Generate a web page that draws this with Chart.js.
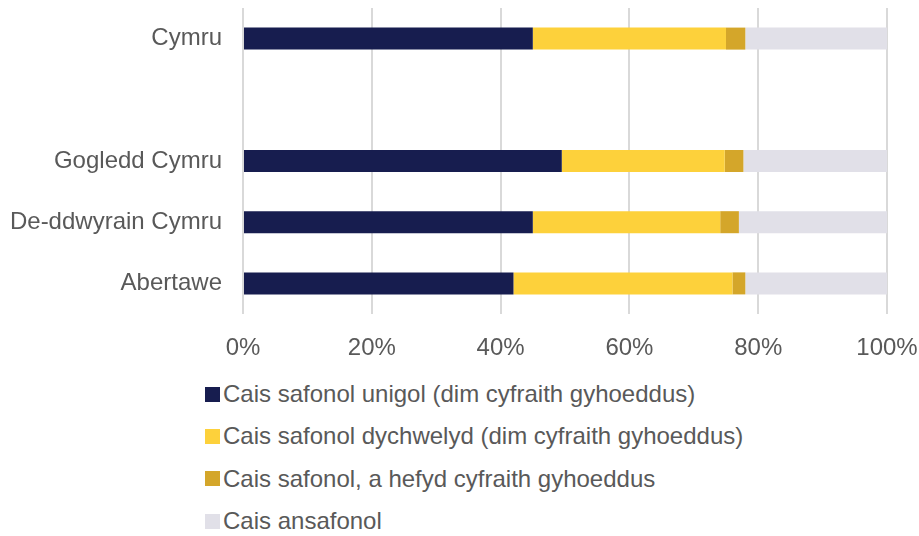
<!DOCTYPE html>
<html>
<head>
<meta charset="utf-8">
<script src="https://cdn.jsdelivr.net/npm/chart.js@4"></script>
<style>
  html, body { margin: 0; padding: 0; background: #fff; }
  body { width: 919px; height: 536px; position: relative; overflow: hidden; font-family: "Liberation Sans", Arial, sans-serif; }
  #wrap { position: absolute; left: 0; top: 0; width: 919px; height: 370px; }
  #legend { position: absolute; left: 205px; top: 373px; }
  .item { display: flex; align-items: center; height: 42.3px; font-size: 24px; color: #595959; white-space: nowrap; }
  .box { width: 15px; height: 15px; margin-right: 3px; flex: none; }
</style>
</head>
<body>
<div id="wrap"><canvas id="chart"></canvas></div>
<div id="legend"></div>
<script>
// categories (blank row between Cymru and the regions)
const categories = ['Cymru', '', 'Gogledd Cymru', 'De-ddwyrain Cymru', 'Abertawe'];
const seriesNames = [
    'Cais safonol unigol (dim cyfraith gyhoeddus)',
    'Cais safonol dychwelyd (dim cyfraith gyhoeddus)',
    'Cais safonol, a hefyd cyfraith gyhoeddus',
    'Cais ansafonol'
];
const unigol = [45, null, 49.5, 45, 42];
const dychwelyd = [30, null, 25.3, 29.1, 34];
const cyfraith = [3, null, 2.9, 2.9, 2];
const ansafonol = [22, null, 22.3, 23, 22];
const tickLabels = ['0%', '20%', '40%', '60%', '80%', '100%'];
const colors = ['#171d4f', '#fdd13b', '#d4a62a', '#e1e0e8'];

const series = [unigol, dychwelyd, cyfraith, ansafonol];
const textColor = '#595959';

new Chart(document.getElementById('chart'), {
    type: 'bar',
    data: {
        labels: categories,
        datasets: series.map((d, i) => ({
            label: seriesNames[i],
            data: d,
            backgroundColor: colors[i],
            borderWidth: 0,
            barPercentage: 0.36,
            categoryPercentage: 1
        }))
    },
    options: {
        indexAxis: 'y',
        responsive: true,
        maintainAspectRatio: false,
        animation: false,
        layout: { padding: { left: 0, right: 32, top: 8, bottom: 0 } },
        plugins: {
            legend: { display: false },
            tooltip: { enabled: false }
        },
        scales: {
            x: {
                stacked: true,
                min: 0,
                max: 100,
                border: { display: false },
                grid: { color: '#d9d9d9', lineWidth: 2, drawTicks: false },
                ticks: {
                    stepSize: 20,
                    padding: 20,
                    color: textColor,
                    font: { family: 'Liberation Sans', size: 24 },
                    callback: (v) => tickLabels[v / 20]
                },
                afterFit: (s) => {
                    s.height = 56;
                    s.paddingLeft = 0;
                    s.paddingRight = 0;
                }
            },
            y: {
                stacked: true,
                border: { display: false },
                grid: { display: false, drawTicks: false },
                ticks: {
                    padding: 21,
                    color: textColor,
                    font: { family: 'Liberation Sans', size: 24 }
                },
                afterFit: (s) => {
                    s.width = 243;
                    s.paddingTop = 0;
                    s.paddingBottom = 0;
                }
            }
        }
    }
});

// vertical legend list built from the same series names / colours
document.getElementById('legend').innerHTML = seriesNames.map((name, i) => `
    <div class="item"><span class="box" style="background:${colors[i]}"></span>${name}</div>
`).join('');
</script>
</body>
</html>
